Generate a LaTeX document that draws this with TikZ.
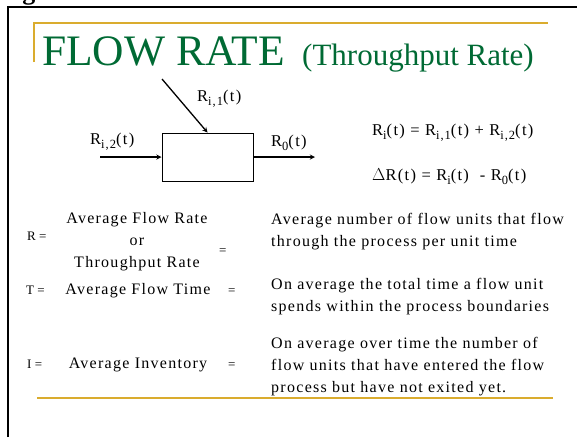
\documentclass[tikz,border=0pt]{standalone}
\usepackage{fontspec}
\setmainfont{Liberation Serif}
\newfontfamily\bodyfont[LetterSpace=8]{Liberation Serif}
\usetikzlibrary{positioning}

\definecolor{titlegreen}{RGB}{0,106,52}
\definecolor{rulegold}{RGB}{218,172,46}

\newcommand{\flowsub}[1]{\raisebox{-4pt}{\fontsize{12.5}{12}\selectfont #1}}

\tikzset{
    txt/.style={font=\bodyfont\fontsize{16}{22}\selectfont, inner sep=0pt, anchor=base west},
    mid/.style={font=\bodyfont\fontsize{16}{22}\selectfont, inner sep=0pt, anchor=base},
    sym/.style={font=\fontsize{13}{13}\selectfont, inner sep=0pt, anchor=base west},
    lbl/.style={font=\bodyfont\fontsize{16.5}{18}\selectfont, inner sep=0pt, anchor=base west},
    goldrule/.style={rulegold, line width=1.3pt},
}

\begin{document}
\begin{tikzpicture}[>=stealth, x=1pt, y=-1pt]
        \useasboundingbox (0,0) rectangle (577,437);

        % page frame and heading
        \node[font=\bfseries\fontsize{26}{26}\selectfont, anchor=base west, inner sep=0pt] (fig_label) at (-1,-1) {Figure 1};
        \draw[line width=1.6pt] (8,437) -- (8,7) -- (577,7);
        \draw[goldrule] (34,62) -- (34,23) -- (548,23);
        \node[titlegreen, font=\fontsize{43.5}{43.5}\selectfont, anchor=base west, inner sep=0pt] (title) at (42,65) {FLOW RATE};
        \node[titlegreen, font=\fontsize{31}{31}\selectfont, anchor=base west, inner sep=0pt] (subtitle) at (302,65) {(Throughput Rate)};

        % process box with flows
        \node[draw, line width=1pt, minimum width=91pt, minimum height=48pt, inner sep=0pt] (proc) at (207.5,157) {};
        \coordinate (in2_tail) at (100,157);
        \coordinate (in1_tail) at (162,79);
        \coordinate (out_tip) at (315,157);
        \draw[->, line width=1.3pt] (in2_tail) -- (proc.west);
        \draw[->, line width=1.3pt] (in1_tail) -- (proc.north);
        \draw[->, line width=1.3pt] (proc.east) -- (out_tip);

        \node[lbl] (r_in1) at (197,101) {R\flowsub{i,1}(t)};
        \node[lbl] (r_in2) at (90,144) {R\flowsub{i,2}(t)};
        \node[lbl] (r_out) at (271,146) {R\flowsub{0}(t)};

        \node[lbl] (eq_sum) at (372,135) {R\flowsub{i}(t) = R\flowsub{i,1}(t) + R\flowsub{i,2}(t)};
        \node[lbl] (eq_diff) at (372,180) {$\Delta$R(t) = R\flowsub{i}(t)~~- R\flowsub{0}(t)};

        % definitions
        \node[sym] (r_sym) at (27,240) {R =};
        \node[mid] (r_name1) at (137,223) {Average Flow Rate};
        \node[mid] (r_name2) at (137,245) {or};
        \node[mid] (r_name3) at (137,267) {Throughput Rate};
        \node[sym] (r_eq) at (219,254) {=};
        \node[txt] (r_def1) at (271,224) {Average number of flow units that flow};
        \node[txt] (r_def2) at (271,246) {through the process per unit time};

        \node[sym] (t_sym) at (26,294) {T =};
        \node[mid] (t_name) at (138,294) {Average Flow Time};
        \node[sym] (t_eq) at (228,294) {=};
        \node[txt] (t_def1) at (271,289) {On average the total time a flow unit};
        \node[txt] (t_def2) at (271,311) {spends within the process boundaries};

        \node[sym] (i_sym) at (27,368) {I =};
        \node[mid] (i_name) at (138,368) {Average Inventory};
        \node[sym] (i_eq) at (228,368) {=};
        \node[txt] (i_def1) at (271,348) {On average over time the number of};
        \node[txt] (i_def2) at (271,370) {flow units that have entered the flow};
        \node[txt] (i_def3) at (271,392) {process but have not exited yet.};

        \draw[goldrule] (37,398) -- (553,398);
    \end{tikzpicture}
\end{document}
